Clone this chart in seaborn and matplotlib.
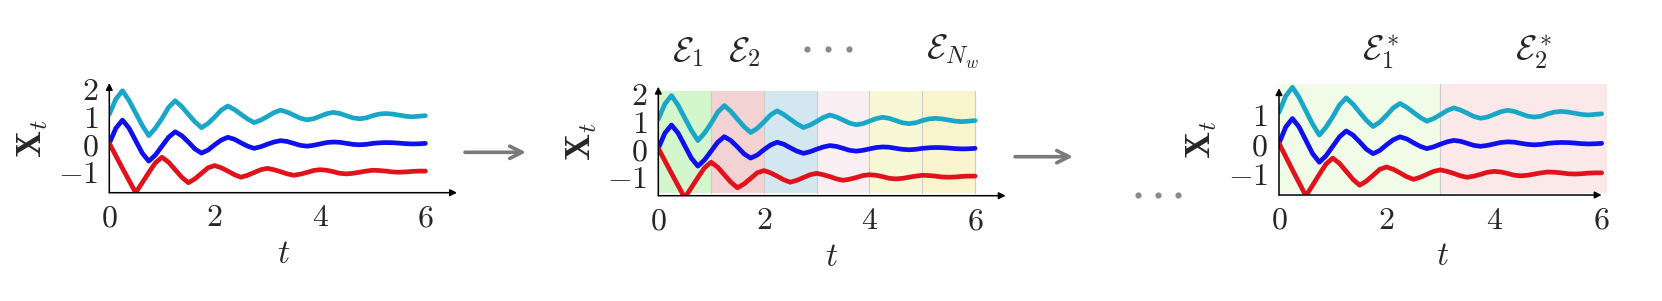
import numpy as np
import pandas as pd
import matplotlib
matplotlib.use("Agg")
import matplotlib.pyplot as plt
import seaborn as sns

# ---------------- data ----------------
t = [0.0, 0.125, 0.25, 0.375, 0.5, 0.625, 0.75, 0.875,
     1.0, 1.125, 1.25, 1.375, 1.5, 1.625, 1.75, 1.875,
     2.0, 2.125, 2.25, 2.375, 2.5, 2.625, 2.75, 2.875,
     3.0, 3.125, 3.25, 3.375, 3.5, 3.625, 3.75, 3.875,
     4.0, 4.125, 4.25, 4.375, 4.5, 4.625, 4.75, 4.875,
     5.0, 5.125, 5.25, 5.375, 5.5, 5.625, 5.75, 5.875, 6.0]
x_cyan = [1.05, 1.6, 1.9, 1.55, 1.1, 0.65, 0.28, 0.55,
          0.9, 1.3, 1.54, 1.33, 1.05, 0.78, 0.57, 0.72,
          0.95, 1.2, 1.35, 1.22, 1.05, 0.88, 0.75, 0.84,
          0.97, 1.11, 1.2, 1.13, 1.02, 0.91, 0.85, 0.89,
          0.98, 1.07, 1.12, 1.08, 1.0, 0.92, 0.89, 0.92,
          1.0, 1.06, 1.08, 1.06, 1.02, 0.98, 0.96, 0.98, 1.0]
x_blue = [0.0, 0.55, 0.84, 0.55, 0.1, -0.35, -0.64, -0.42,
          -0.1, 0.22, 0.42, 0.28, 0.05, -0.2, -0.35, -0.24,
          -0.05, 0.12, 0.22, 0.15, 0.02, -0.1, -0.18, -0.12,
          -0.03, 0.05, 0.1, 0.07, 0.0, -0.07, -0.1, -0.07,
          -0.02, 0.03, 0.05, 0.04, 0.0, -0.035, -0.05, -0.035,
          0.0, 0.02, 0.03, 0.025, 0.01, -0.01, -0.02, -0.015, 0.0]
x_red = [0.0, -0.45, -0.9, -1.34, -1.78, -1.42, -1.05, -0.7,
         -0.5, -0.68, -0.95, -1.22, -1.42, -1.28, -1.08, -0.88,
         -0.8, -0.88, -1.0, -1.13, -1.22, -1.15, -1.05, -0.95,
         -0.9, -0.95, -1.02, -1.1, -1.15, -1.11, -1.05, -0.98,
         -0.95, -0.97, -1.02, -1.08, -1.1, -1.08, -1.04, -1.0,
         -0.97, -0.98, -1.0, -1.03, -1.04, -1.03, -1.01, -1.0, -1.0]

series_names = ["cyan", "blue", "red"]
series_colors = ["#1aa6c6", "#1010ee", "#e0121c"]

x_ticks = [0, 2, 4, 6]
x_ticklabels = ["$0$", "$2$", "$4$", "$6$"]
y_ticks_full = [-1, 0, 1, 2]
y_ticklabels_full = ["$-1$", "$0$", "$1$", "$2$"]
y_ticks_short = [-1, 0, 1]
y_ticklabels_short = ["$-1$", "$0$", "$1$"]

# windows for panel 2 (N_w windows of length 1) and panel 3 (two merged)
win2_edges = [0, 1, 2, 3, 4, 5, 6]
win2_colors = ["#d4f6cc", "#f2d2d2", "#d3e7f1", "#f9eef2", "#f8f8d6", "#faf4cc"]
win3_edges = [0, 3, 6.1]
win3_colors = ["#f0fbe8", "#fbe9e9"]

win2_labels = [r"$\mathcal{E}_1$", r"$\mathcal{E}_2$", r"$\mathcal{E}_{N_w}$"]
win3_labels = [r"$\mathcal{E}_1^*$", r"$\mathcal{E}_2^*$"]

df = pd.DataFrame({
    "t": t * 3,
    "x": x_cyan + x_blue + x_red,
    "series": sum([[n] * len(t) for n in series_names], []),
})

# ---------------- style ----------------
sns.set_theme(style="white")
plt.rcParams["font.family"] = ["DejaVu Serif"]
plt.rcParams["mathtext.fontset"] = "cm"

W, H = 1662, 301
fig = plt.figure(figsize=(W / 100, H / 100), dpi=100)

TICK_FS = 23


def add_ax(left_px, bottom_px, width_px, top_px):
    return fig.add_axes([left_px / W, 1 - bottom_px / H,
                         width_px / W, (bottom_px - top_px) / H])


def style_panel(ax, xlim, ylim, yticks, yticklabels, xarrow_end, yarrow_top):
    ax.set_xlim(*xlim)
    ax.set_ylim(*ylim)
    for s in ax.spines.values():
        s.set_visible(False)
    ax.set_facecolor("none")
    ax.set_xticks(x_ticks)
    ax.set_xticklabels(x_ticklabels, fontsize=TICK_FS)
    ax.set_yticks(yticks)
    ax.set_yticklabels(yticklabels, fontsize=TICK_FS)
    ax.tick_params(axis="x", direction="in", length=5, width=0.8,
                   color="#b0b0b0", pad=7)
    ax.tick_params(axis="y", direction="out", length=6, width=0.8,
                   color="#b0b0b0", pad=2)
    ax.set_xlabel("$t$", fontsize=24, labelpad=3)
    ax.set_ylabel(r"$\mathbf{X}_t$", fontsize=26, labelpad=6)
    ax.grid(False)
    # axis lines with arrows
    ax.annotate("", xy=(xarrow_end, ylim[0]), xytext=(0, ylim[0]),
                arrowprops=dict(arrowstyle="-|>", color="black", lw=1.1,
                                mutation_scale=10, shrinkA=0, shrinkB=0),
                annotation_clip=False, zorder=5)
    ax.annotate("", xy=(0, yarrow_top), xytext=(0, ylim[0]),
                arrowprops=dict(arrowstyle="-|>", color="black", lw=1.1,
                                mutation_scale=10, shrinkA=0, shrinkB=0),
                annotation_clip=False, zorder=5)


def draw_lines(ax):
    sns.lineplot(data=df, x="t", y="x", hue="series", hue_order=series_names,
                 palette=series_colors, legend=False, ax=ax, linewidth=3.4,
                 estimator=None, sort=False,
                 solid_joinstyle="round", solid_capstyle="round")


# ---------------- panel 1 ----------------
ax1 = add_ax(109.3, 192.7, 347.7, 83)
draw_lines(ax1)
style_panel(ax1, (0, 6.6), (-1.78, 2.18), y_ticks_full, y_ticklabels_full, 6.6, 2.18)

# ---------------- panel 2 ----------------
ax2 = add_ax(658.3, 195.7, 347.4, 86.7)
for i, c in enumerate(win2_colors):
    ax2.fill_between([win2_edges[i], win2_edges[i + 1]], -1.62, 2.06,
                     color=c, lw=0, zorder=0)
for e in win2_edges[1:]:
    ax2.plot([e, e], [-1.62, 2.06], color="#cccccc", lw=0.8, zorder=1)
draw_lines(ax2)
style_panel(ax2, (0, 6.58), (-1.705, 2.22), y_ticks_full, y_ticklabels_full, 6.58, 2.22)

# ---------------- panel 3 ----------------
ax3 = add_ax(1279, 195, 328, 84.3)
for i, c in enumerate(win3_colors):
    ax3.fill_between([win3_edges[i], win3_edges[i + 1]], -1.68, 2.0,
                     color=c, lw=0, zorder=0)
ax3.plot([win3_edges[1]] * 2, [-1.68, 2.0], color="#cccccc", lw=0.8, zorder=1)
draw_lines(ax3)
style_panel(ax3, (0, 6.1), (-1.75, 2.0), y_ticks_short, y_ticklabels_short, 6.0, 1.87)

# ---------------- overlay: window labels, arrows, dots ----------------
ov = fig.add_axes([0, 0, 1, 1], zorder=10)
ov.set_xlim(0, W)
ov.set_ylim(H, 0)
ov.axis("off")
ov.patch.set_alpha(0)

for lbl, xp in zip(win2_labels, [688, 744, 953]):
    ov.text(xp, 52, lbl, fontsize=25, ha="center", va="center")
for lbl, xp in zip(win3_labels, [1380, 1533]):
    ov.text(xp, 52, lbl, fontsize=25, ha="center", va="center")

ov.scatter([807, 828, 849], [49, 49, 49], s=20, color="#8a8a8a", lw=0)
ov.scatter([1138, 1158, 1178], [195, 195, 195], s=20, color="#8a8a8a", lw=0)

for x0, x1, yy in [(465, 526, 152.3), (1015, 1073, 156.7)]:
    ov.annotate("", xy=(x1, yy), xytext=(x0, yy),
                arrowprops=dict(arrowstyle="->", color="#7a7a7a", lw=2.6,
                                mutation_scale=22, shrinkA=0, shrinkB=0))

fig.savefig("out.png", dpi=100)
